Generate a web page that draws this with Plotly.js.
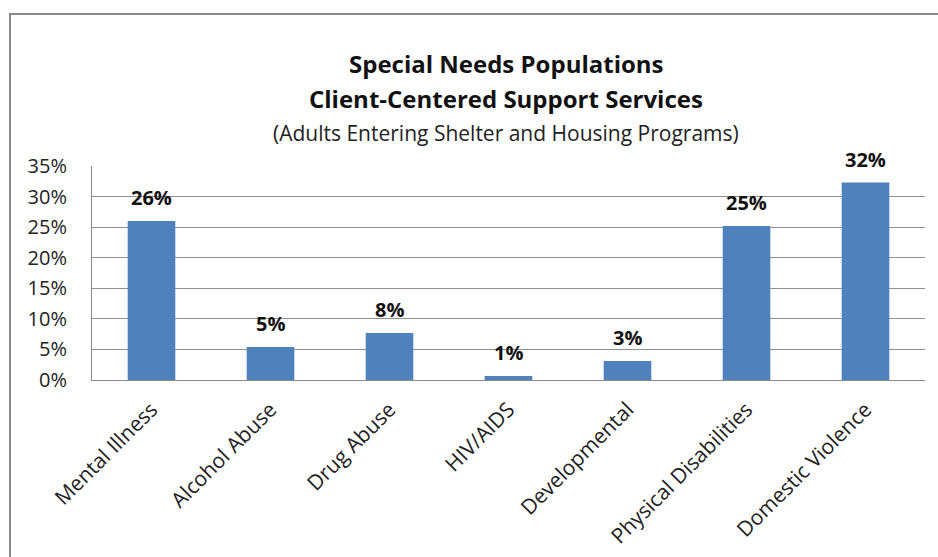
<!DOCTYPE html>
<html>
<head>
<meta charset="utf-8">
<script src="https://cdn.plot.ly/plotly-3.0.1.min.js"></script>
<style>
html,body{margin:0;padding:0;background:#fff;width:938px;height:557px;overflow:hidden;}
#frame{position:absolute;left:9px;top:13px;width:1000px;height:700px;border:2px solid #8a8a8a;box-sizing:border-box;}
#chart{position:absolute;left:0;top:0;width:938px;height:557px;}
</style>
</head>
<body>
<div id="frame"></div>
<div id="chart"></div>
<script>
const categories = ["Mental Illness","Alcohol Abuse","Drug Abuse","HIV/AIDS","Developmental","Physical Disabilities","Domestic Violence"];
const values = [0.260, 0.054, 0.077, 0.0065, 0.031, 0.252, 0.323];
const valueLabels = ["26%","5%","8%","1%","3%","25%","32%"];
const yTicks = [0,0.05,0.10,0.15,0.20,0.25,0.30,0.35];
const yTickLabels = ["0%","5%","10%","15%","20%","25%","30%","35%"];

const FONT = "'Open Sans', sans-serif";

const trace = {
  type: "bar",
  x: categories,
  y: values,
  marker: {color: "#4F81BD"},
  width: 0.4,
  hoverinfo: "skip"
};

const annotations = categories.map((c, i) => ({
  x: c, y: values[i], xref: "x", yref: "y",
  text: "<b>" + valueLabels[i] + "</b>",
  showarrow: false, yanchor: "bottom", yshift: 8,
  font: {family: FONT, size: 20, color: "#111"}
}));

annotations.push(
  {xref:"paper", yref:"paper", x:0.497, y:1, yanchor:"bottom", yshift:84, showarrow:false,
   text:"<b>Special Needs Populations</b>", font:{family:FONT, size:24, color:"#111"}},
  {xref:"paper", yref:"paper", x:0.497, y:1, yanchor:"bottom", yshift:49, showarrow:false,
   text:"<b>Client-Centered Support Services</b>", font:{family:FONT, size:24, color:"#111"}},
  {xref:"paper", yref:"paper", x:0.497, y:1, yanchor:"bottom", yshift:17, showarrow:false,
   text:"(Adults Entering Shelter and Housing Programs)", font:{family:FONT, size:21, color:"#222"}}
);

const layout = {
  width: 938, height: 557,
  margin: {l: 92, r: 13, t: 166, b: 177, pad: 0},
  paper_bgcolor: "rgba(0,0,0,0)",
  plot_bgcolor: "#fff",
  showlegend: false,
  font: {family: FONT, color: "#222"},
  xaxis: {
    type: "category",
    tickangle: -45,
    tickfont: {family: FONT, size: 21, color: "#222"},
    ticklabelstandoff: 8,
    showline: true, linecolor: "#8a8a8a", linewidth: 1,
    showgrid: false, ticks: "", fixedrange: true
  },
  yaxis: {
    range: [0, 0.35],
    tickvals: yTicks,
    ticktext: yTickLabels,
    tickfont: {family: FONT, size: 20, color: "#222"},
    ticklabelstandoff: 20,
    showgrid: true, gridcolor: "#8f8f8f", gridwidth: 1,
    showline: true, linecolor: "#8a8a8a", linewidth: 1,
    zeroline: false, ticks: "", ticklen: 0, fixedrange: true
  },
  annotations: annotations
};

Plotly.newPlot("chart", [trace], layout, {displayModeBar: false, staticPlot: true});
</script>
</body>
</html>
